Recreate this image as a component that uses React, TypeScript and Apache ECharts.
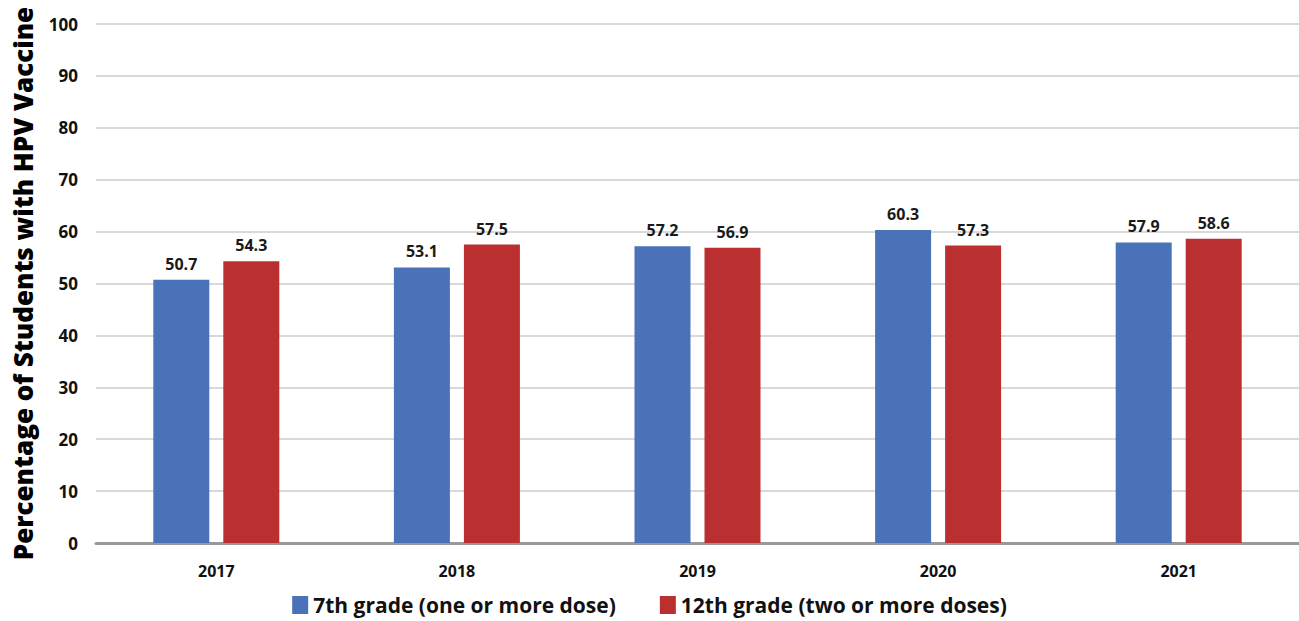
import React, { useEffect, useRef } from "react";
import * as echarts from "echarts";

const years = ["2017", "2018", "2019", "2020", "2021"];
const grade7 = [50.7, 53.1, 57.2, 60.3, 57.9];
const grade12 = [54.3, 57.5, 56.9, 57.3, 58.6];
const seriesNames = ["7th grade (one or more dose)", "12th grade (two or more doses)"];

const FONT = "'Open Sans', 'Noto Sans', sans-serif";

export default function App() {
  const ref = useRef<HTMLDivElement>(null);
  useEffect(() => {
    if (!ref.current) return;
    const chart = echarts.init(ref.current, undefined, { renderer: "svg" });
    const label = {
      show: true,
      position: "top",
      distance: 8,
      fontFamily: FONT,
      fontWeight: "bold",
      fontSize: 16,
      color: "#1a1a1a",
      formatter: (p: any) => p.value.toFixed(1),
    };
    chart.setOption({
      animation: false,
      backgroundColor: "#fff",
      textStyle: { fontFamily: FONT },
      grid: { left: 96, right: 0, top: 24, bottom: 78 },
      legend: {
        bottom: 4,
        left: "center",
        padding: 0,
        itemWidth: 16,
        itemHeight: 18,
        itemGap: 44,
        icon: "rect",
        textStyle: { fontFamily: FONT, fontWeight: "bold", fontSize: 21, lineHeight: 24, color: "#111" },
        data: seriesNames,
      },
      xAxis: {
        type: "category",
        data: years,
        axisLine: { lineStyle: { color: "#999", width: 3 } },
        axisTick: { show: false },
        axisLabel: { fontFamily: FONT, fontWeight: "bold", fontSize: 16, color: "#111", margin: 20 },
      },
      yAxis: {
        type: "value",
        min: 0,
        max: 100,
        interval: 10,
        name: "Percentage of Students with HPV Vaccine",
        nameLocation: "middle",
        nameGap: 60,
        nameTextStyle: { fontFamily: FONT, fontWeight: 800, fontSize: 26, color: "#000" },
        axisLine: { show: false },
        axisTick: { show: false },
        axisLabel: { fontFamily: FONT, fontWeight: "bold", fontSize: 17, color: "#111", margin: 18 },
        splitLine: { lineStyle: { color: "#d9d9d9", width: 2 } },
      },
      series: [
        {
          name: seriesNames[0],
          type: "bar",
          data: grade7,
          barWidth: 56,
          barGap: "25%",
          itemStyle: { color: "#4a72b8" },
          label,
        },
        {
          name: seriesNames[1],
          type: "bar",
          data: grade12,
          barWidth: 56,
          barGap: "25%",
          itemStyle: { color: "#ba3030" },
          label,
        },
      ],
    });
    return () => chart.dispose();
  }, []);
  return (
    <div
      ref={ref}
      style={{ position: "fixed", left: 0, top: 0, width: 1299, height: 621 }}
    />
  );
}
